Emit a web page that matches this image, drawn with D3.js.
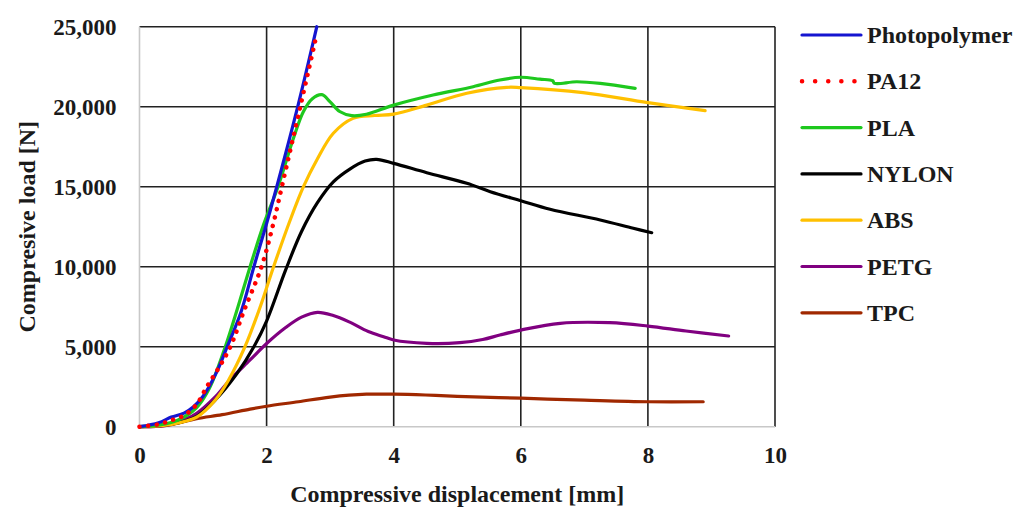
<!DOCTYPE html>
<html><head><meta charset="utf-8">
<script src="https://d3js.org/d3.v7.min.js"></script>
<style>html,body{margin:0;padding:0;background:#fff;} text{font-family:"Liberation Serif","Times New Roman",serif;font-weight:bold;fill:#1a1a1a;}</style>
</head><body>
<svg id="c" width="1027" height="511"></svg>
<script>
const seriesNames = ["Photopolymer","PA12","PLA","NYLON","ABS","PETG","TPC"];
const seriesColors = ["#1515d0","#ff0000","#1ec81e","#000000","#ffc000","#800080","#a02800"];
const xTicks = [0,2,4,6,8,10];
const yTicks = [0,5000,10000,15000,20000,25000];
const photopolymer = [[0,0],[0.3,250],[0.5,600],[0.7,850],[0.85,1250],[1.0,1900],[1.2,3300],[1.38,5000],[1.6,7200],[1.8,10000],[2.0,12700],[2.16,15000],[2.49,20000],[2.79,25000]];
const pa12 = [[0,0],[0.3,150],[0.5,400],[0.7,700],[0.9,1400],[1.06,2500],[1.25,3700],[1.43,5000],[1.65,7300],[1.92,10000],[2.1,12600],[2.24,15000],[2.53,20000],[2.77,24200]];
const pla = [[0,0],[0.3,100],[0.6,400],[0.9,1200],[1.1,2400],[1.35,5000],[1.55,7500],[1.74,10000],[1.95,12600],[2.18,15000],[2.42,18000],[2.58,19700],[2.72,20500],[2.87,20750],[3.0,20300],[3.15,19700],[3.34,19440],[3.57,19525],[4.0,20100],[4.62,20730],[5.25,21250],[5.67,21670],[6.0,21840],[6.3,21720],[6.5,21625],[6.53,21460],[6.88,21560],[7.25,21460],[7.8,21150]];
const nylon = [[0,0],[0.5,150],[0.9,650],[1.2,1700],[1.53,3300],[1.8,5000],[2.0,6600],[2.3,9800],[2.55,12200],[2.8,14000],[3.05,15300],[3.31,16100],[3.55,16600],[3.73,16710],[4.0,16460],[4.52,15875],[5.15,15210],[5.52,14690],[6.0,14125],[6.46,13590],[7.25,12920],[7.77,12400],[8.06,12125]];
const abs = [[0,0],[0.5,150],[0.9,600],[1.2,1700],[1.4,2900],[1.66,5000],[1.9,7500],[2.11,10000],[2.37,12900],[2.58,15000],[2.79,16670],[3.05,18340],[3.36,19270],[3.7,19450],[4.0,19540],[4.52,20100],[5.15,20840],[5.78,21210],[6.0,21190],[6.98,20880],[8.0,20250],[8.9,19750]];
const petg = [[0,0],[0.4,80],[0.74,500],[0.9,840],[1.2,1900],[1.42,2920],[1.74,4170],[2.0,5200],[2.3,6200],[2.55,6850],[2.8,7150],[3.05,6950],[3.3,6550],[3.6,5950],[3.84,5625],[4.0,5420],[4.52,5210],[5.04,5250],[5.4,5450],[5.67,5730],[6.0,6040],[6.62,6460],[7.4,6500],[8.0,6290],[8.6,5980],[9.27,5670]];
const tpc = [[0,0],[0.4,60],[0.9,500],[1.3,750],[1.74,1100],[2.0,1280],[2.5,1560],[3.0,1850],[3.57,2030],[4.0,2030],[4.5,1980],[5.0,1900],[6.0,1780],[7.0,1660],[8.0,1560],[8.87,1560]];
const allSeries = [photopolymer,pa12,pla,nylon,abs,petg,tpc];

const svg = d3.select("#c");
const L=139.5, R=775, T=26.7, B=426.7;
const x = d3.scaleLinear().domain([0,10]).range([L,R]);
const y = d3.scaleLinear().domain([0,25000]).range([B,T]);

const g = svg.append("g");
g.selectAll("line.v").data(xTicks.filter(d=>d>0)).join("line")
  .attr("x1",d=>x(d)).attr("x2",d=>x(d)).attr("y1",T).attr("y2",B)
  .attr("stroke","#222").attr("stroke-width",1.6);
g.selectAll("line.h").data(yTicks.filter(d=>d>0)).join("line")
  .attr("x1",L).attr("x2",R).attr("y1",d=>y(d)).attr("y2",d=>y(d))
  .attr("stroke","#222").attr("stroke-width",1.6);
g.append("line").attr("x1",L).attr("x2",L).attr("y1",T).attr("y2",B).attr("stroke","#c8c8c8").attr("stroke-width",1.6);
g.append("line").attr("x1",L).attr("x2",R).attr("y1",B).attr("y2",B).attr("stroke","#c8c8c8").attr("stroke-width",1.6);

const fmt = d3.format(",");
const ya = svg.append("g").attr("transform",`translate(${L},0)`)
  .call(d3.axisLeft(y).tickValues(yTicks).tickFormat(fmt).tickSize(0).tickPadding(23));
ya.select(".domain").remove();
ya.selectAll("text").style("font-family","Liberation Serif").style("font-weight","bold").style("font-size","23px").attr("fill","#1a1a1a");
const xa = svg.append("g").attr("transform",`translate(0,${B})`)
  .call(d3.axisBottom(x).tickValues(xTicks).tickFormat(d3.format("d")).tickSize(0).tickPadding(20));
xa.select(".domain").remove();
xa.selectAll("text").style("font-family","Liberation Serif").style("font-weight","bold").style("font-size","23px").attr("fill","#1a1a1a");

const line = d3.line().x(d=>x(d[0])).y(d=>y(d[1])).curve(d3.curveCatmullRom.alpha(0.5));
const order = [6,5,3,4,2,0,1];
order.forEach(i=>{
  const p = svg.append("path").datum(allSeries[i]).attr("d",line).attr("fill","none")
    .attr("stroke",seriesColors[i]).attr("stroke-width",i===1?4.5:3.2).attr("stroke-linecap","round");
  if(i===1) p.attr("stroke-dasharray","0.1 8.5");
});

svg.append("text").attr("x",(L+R)/2).attr("y",502).attr("text-anchor","middle").style("font-size","24px").text("Compressive displacement [mm]");
svg.append("text").attr("transform",`translate(35,${(T+B)/2}) rotate(-90)`).attr("text-anchor","middle").style("font-size","24px").text("Compresive load [N]");

const leg = svg.append("g");
seriesNames.forEach((n,i)=>{
  const yy = 35 + i*46.3;
  const l = leg.append("line").attr("x1",802).attr("x2",861).attr("y1",yy).attr("y2",yy)
    .attr("stroke",seriesColors[i]).attr("stroke-width",i===1?4.5:3.2).attr("stroke-linecap","round");
  if(i===1) l.attr("stroke-dasharray","0.1 13");
  leg.append("text").attr("x",867).attr("y",yy+8).style("font-size","24px").text(n);
});
</script>
</body></html>
